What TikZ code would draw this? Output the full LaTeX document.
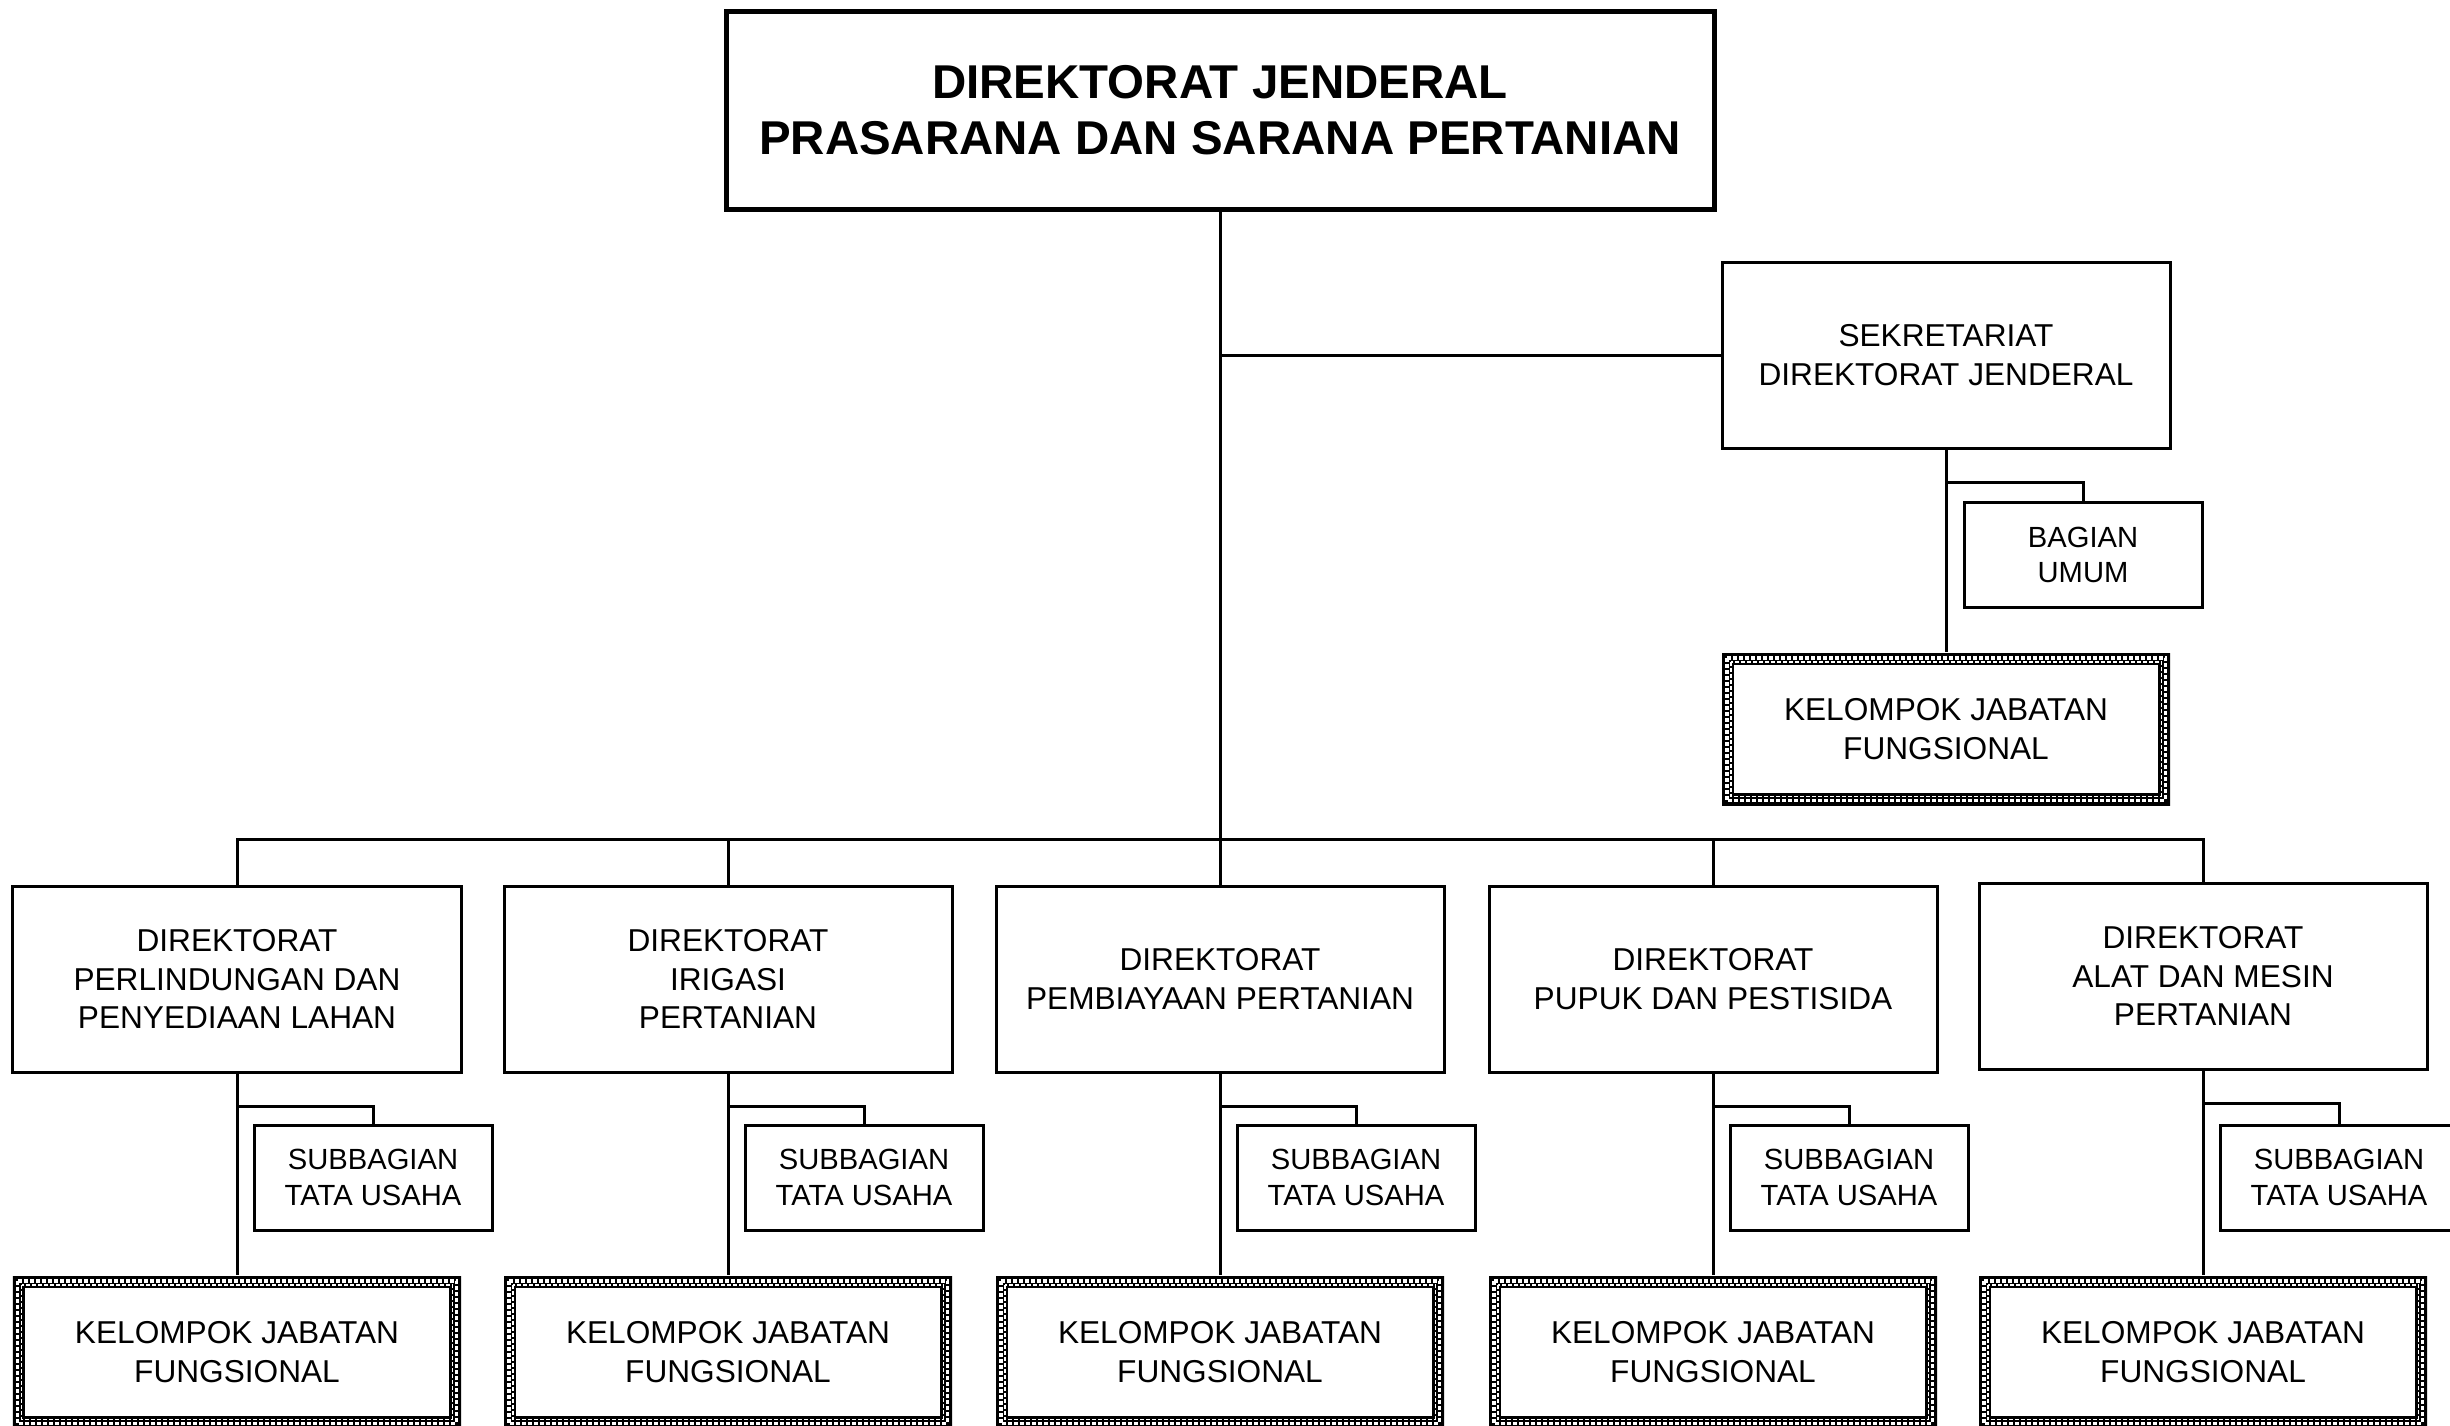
\documentclass[tikz,border=0pt]{standalone}
\usepackage{fontspec}
\setmainfont{Liberation Sans}
\usetikzlibrary{positioning}
\tikzset{
    dirbox/.style={draw, line width=0.03cm, minimum width=4.48cm, minimum height=1.86cm,
        align=center, inner sep=0pt, font=\fontsize{9}{11}\selectfont},
    subbox/.style={draw, line width=0.03cm, minimum width=2.38cm, minimum height=1.05cm,
        align=center, inner sep=0pt, font=\fontsize{8.3}{10}\selectfont},
    jabfung/.style={minimum width=4.48cm, minimum height=1.52cm,
        align=center, inner sep=0pt, font=\fontsize{9}{11}\selectfont,
        path picture={
            \draw[line width=0.24cm] (path picture bounding box.north west) rectangle
                (path picture bounding box.south east);
            \draw[white, line width=0.035cm, dash pattern=on 0.04cm off 0.02cm]
                ([shift={(0.0475,-0.0475)}]path picture bounding box.north west) rectangle
                ([shift={(-0.0475,0.0475)}]path picture bounding box.south east);
            \draw[white, line width=0.015cm, dash pattern=on 0.04cm off 0.02cm]
                ([shift={(0.0875,-0.0875)}]path picture bounding box.north west) rectangle
                ([shift={(-0.0875,0.0875)}]path picture bounding box.south east);}},
    link/.style={line width=0.03cm}
}

\begin{document}
\begin{tikzpicture}
    \useasboundingbox (0,0) rectangle (24.5,-14.25);

    \node[draw, line width=0.05cm, minimum width=9.88cm, minimum height=1.98cm, align=center,
        font=\fontsize{13.5}{16}\selectfont\bfseries] (dirjen) at (12.20, -1.10)
        {DIREKTORAT JENDERAL\\PRASARANA DAN SARANA PERTANIAN};

    \node[dirbox] (sekr) at (19.46, -3.55) {SEKRETARIAT\\DIREKTORAT JENDERAL};
    \node[subbox] (umum) at (20.83, -5.55) {BAGIAN\\UMUM};
    \node[jabfung] (jfsekr) at (19.46, -7.29) {KELOMPOK JABATAN\\FUNGSIONAL};

    \node[dirbox] (dlahan) at (2.37, -9.79) {DIREKTORAT\\PERLINDUNGAN DAN\\PENYEDIAAN LAHAN};
    \node[dirbox] (dirigasi) at (7.28, -9.79) {DIREKTORAT\\IRIGASI\\PERTANIAN};
    \node[dirbox] (dbiaya) at (12.20, -9.79) {DIREKTORAT\\PEMBIAYAAN PERTANIAN};
    \node[dirbox] (dpupuk) at (17.13, -9.79) {DIREKTORAT\\PUPUK DAN PESTISIDA};
    \node[dirbox] (dalsin) at (22.03, -9.76) {DIREKTORAT\\ALAT DAN MESIN\\PERTANIAN};

    \node[subbox] (tulahan) at (3.73, -11.775) {SUBBAGIAN\\TATA USAHA};
    \node[subbox] (tuirigasi) at (8.64, -11.775) {SUBBAGIAN\\TATA USAHA};
    \node[subbox] (tubiaya) at (13.56, -11.775) {SUBBAGIAN\\TATA USAHA};
    \node[subbox] (tupupuk) at (18.49, -11.775) {SUBBAGIAN\\TATA USAHA};
    \node[subbox] (tualsin) at (23.39, -11.775) {SUBBAGIAN\\TATA USAHA};

    \node[jabfung] (jflahan) at (2.37, -13.52) {KELOMPOK JABATAN\\FUNGSIONAL};
    \node[jabfung] (jfirigasi) at (7.28, -13.52) {KELOMPOK JABATAN\\FUNGSIONAL};
    \node[jabfung] (jfbiaya) at (12.20, -13.52) {KELOMPOK JABATAN\\FUNGSIONAL};
    \node[jabfung] (jfpupuk) at (17.13, -13.52) {KELOMPOK JABATAN\\FUNGSIONAL};
    \node[jabfung] (jfalsin) at (22.03, -13.52) {KELOMPOK JABATAN\\FUNGSIONAL};

    % garis komando
    \coordinate (bus) at (0, -8.39);
    \draw[link] (dirjen.south) -- (dbiaya.north);
    \draw[link] (sekr.west) -- (sekr.west -| dirjen.south);
    \draw[link] (dlahan.north) -- (dlahan.north |- bus) -- (dalsin.north |- bus) -- (dalsin.north);
    \draw[link] (dirigasi.north) -- (dirigasi.north |- bus);
    \draw[link] (dpupuk.north) -- (dpupuk.north |- bus);

    \draw[link] (sekr.south) -- (jfsekr.north);
    \draw[link] (sekr.south) ++(0, -0.33) -| (umum.north);

    \draw[link] (dlahan.south) -- (jflahan.north);
    \draw[link] (dlahan.south) ++(0, -0.33) -| (tulahan.north);
    \draw[link] (dirigasi.south) -- (jfirigasi.north);
    \draw[link] (dirigasi.south) ++(0, -0.33) -| (tuirigasi.north);
    \draw[link] (dbiaya.south) -- (jfbiaya.north);
    \draw[link] (dbiaya.south) ++(0, -0.33) -| (tubiaya.north);
    \draw[link] (dpupuk.south) -- (jfpupuk.north);
    \draw[link] (dpupuk.south) ++(0, -0.33) -| (tupupuk.north);
    \draw[link] (dalsin.south) -- (jfalsin.north);
    \draw[link] (dalsin.south) ++(0, -0.33) -| (tualsin.north);
\end{tikzpicture}
\end{document}
